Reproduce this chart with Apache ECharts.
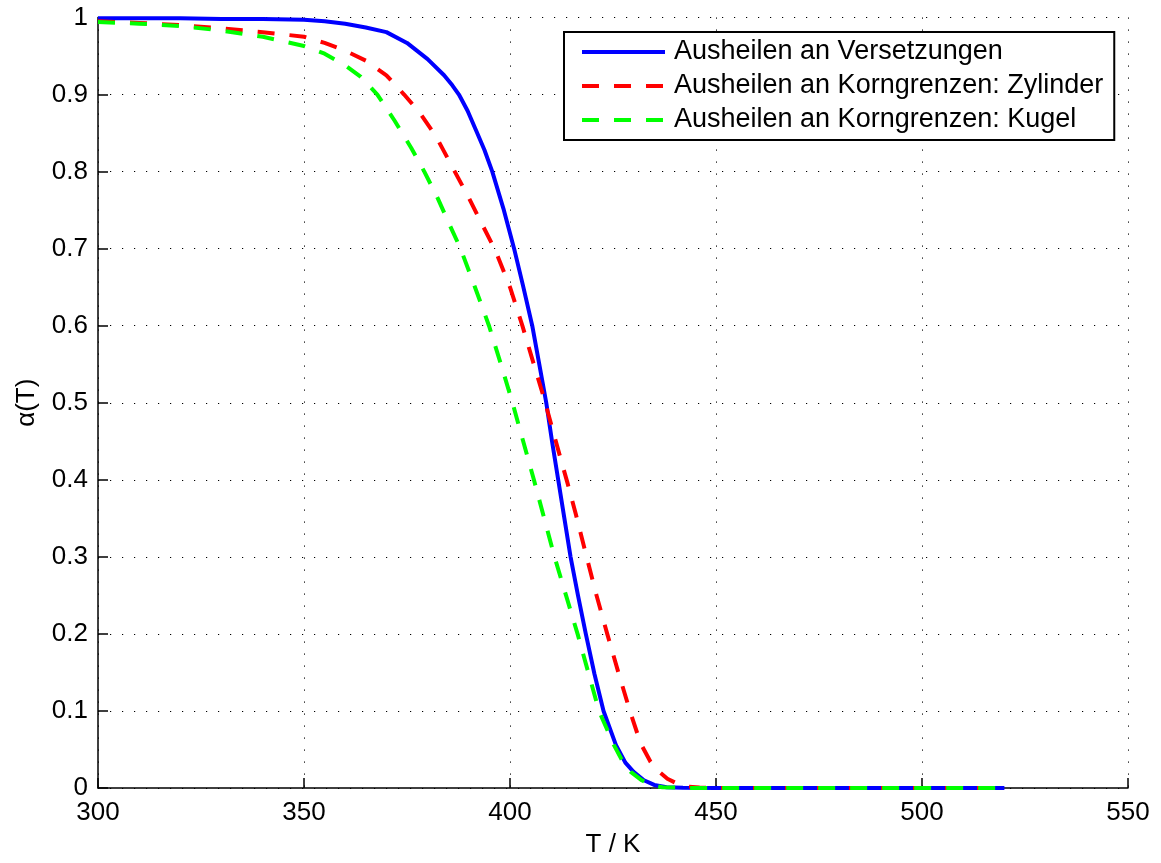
<!DOCTYPE html>
<html>
<head>
<meta charset="utf-8">
<script src="https://cdn.jsdelivr.net/npm/echarts@6/dist/echarts.min.js"></script>
<style>
  html, body { margin: 0; padding: 0; background: #fff; }
  #chart { width: 1161px; height: 863px; }
</style>
</head>
<body>
<div id="chart"></div>
<script>
// Annealing fraction alpha(T) for three recovery mechanisms
const seriesNames = [
  'Ausheilen an Versetzungen',
  'Ausheilen an Korngrenzen: Zylinder',
  'Ausheilen an Korngrenzen: Kugel'
];

// Dislocation annealing
const tempVersetzung = [300, 310, 320, 330, 340, 350, 355, 360, 365, 370, 375, 380, 384, 386, 387.6, 389.7, 391.8, 393.8, 395.7, 398.4, 401, 403.2, 405.4, 407.1, 408.8, 410.2, 411.7, 413.2, 414.7, 416.5, 418.4, 420.5, 422.7, 425.7, 428, 430, 432.5, 435, 438, 442, 450, 460, 480, 500, 520];
const alphaVersetzung = [0.999, 0.999, 0.999, 0.998, 0.998, 0.997, 0.995, 0.992, 0.987, 0.981, 0.967, 0.946, 0.925, 0.912, 0.900, 0.879, 0.853, 0.828, 0.800, 0.752, 0.700, 0.651, 0.600, 0.550, 0.500, 0.450, 0.400, 0.350, 0.300, 0.250, 0.200, 0.148, 0.100, 0.056, 0.033, 0.021, 0.010, 0.004, 0.001, 0.0002, 0, 0, 0, 0, 0];

// Grain boundary annealing, cylindrical grains
const tempZylinder = [300, 310, 320, 330, 340, 350, 355, 360, 365, 370, 374.3, 378, 382, 386.6, 390, 393, 396.5, 400, 403, 405.5, 408.3, 410.5, 412, 414, 416, 418.6, 421, 423.6, 426.3, 429.1, 431.7, 434.1, 436, 438.2, 440.5, 443, 446, 450, 460, 480, 500, 520];
const alphaZylinder = [0.995, 0.993, 0.990, 0.986, 0.981, 0.975, 0.967, 0.957, 0.944, 0.925, 0.900, 0.877, 0.846, 0.800, 0.766, 0.734, 0.697, 0.650, 0.600, 0.555, 0.505, 0.462, 0.433, 0.395, 0.355, 0.300, 0.250, 0.200, 0.150, 0.100, 0.058, 0.034, 0.022, 0.012, 0.006, 0.002, 0.0005, 0, 0, 0, 0, 0];

// Grain boundary annealing, spherical grains
const tempKugel = [300, 310, 320, 330, 340, 350, 355, 360, 363.8, 367.8, 372, 376, 379.2, 382.5, 385, 388, 391.5, 394.9, 397.8, 400.6, 403.2, 405.8, 408.3, 410.8, 413.6, 416.4, 419, 421.6, 425.2, 427.5, 429.3, 432, 434.1, 437, 442, 450, 460, 480, 500, 520];
const alphaKugel = [0.994, 0.992, 0.989, 0.983, 0.975, 0.963, 0.953, 0.938, 0.923, 0.900, 0.866, 0.831, 0.800, 0.765, 0.735, 0.700, 0.650, 0.600, 0.550, 0.500, 0.450, 0.400, 0.350, 0.300, 0.250, 0.200, 0.150, 0.100, 0.056, 0.033, 0.021, 0.010, 0.004, 0.001, 0.0002, 0, 0, 0, 0, 0];

const xTicks = { min: 300, max: 550, step: 50 };
const yTicks = { min: 0, max: 1, step: 0.1 };

const pairs = (xs, ys) => xs.map((x, i) => [x, ys[i]]);

const FONT = '"Liberation Sans", Arial, Helvetica, sans-serif';
const dotted = { color: '#000', width: 1, type: [1.2, 10.8] };

const chart = echarts.init(document.getElementById('chart'), null, { renderer: 'canvas' });

const lineSeries = (name, data, color, dash, z) => ({
  name: name,
  type: 'line',
  data: data,
  showSymbol: false,
  symbol: 'none',
  smooth: false,
  z: z,
  lineStyle: { color: color, width: 4, type: dash, join: 'round' },
  itemStyle: { color: color },
  emphasis: { disabled: true },
  animation: false
});

chart.setOption({
  backgroundColor: '#fff',
  animation: false,
  textStyle: { fontFamily: FONT },
  grid: { left: 98, top: 17.5, width: 1030, height: 775.5, containLabel: false },
  legend: {
    orient: 'vertical',
    left: 564,
    top: 32,
    padding: [5, 11, 5, 16],
    itemWidth: 83,
    itemHeight: 12,
    itemGap: 4,
    borderColor: '#000',
    borderWidth: 2,
    backgroundColor: '#fff',
    selectedMode: false,
    itemStyle: { opacity: 0 },
    lineStyle: { width: 4 },
    textStyle: { fontFamily: FONT, fontSize: 27, color: '#000', lineHeight: 30, padding: [0, 0, 0, 4] },
    data: seriesNames
  },
  xAxis: {
    type: 'value',
    min: xTicks.min,
    max: xTicks.max,
    interval: xTicks.step,
    name: 'T / K',
    nameLocation: 'middle',
    nameGap: 44,
    nameTextStyle: { fontFamily: FONT, fontSize: 26, color: '#000' },
    axisLine: { show: true, onZero: false, lineStyle: { color: '#000', width: 1.5 } },
    axisTick: { show: true, inside: true, length: 10, lineStyle: { color: '#000', width: 1.5 } },
    axisLabel: { fontFamily: FONT, fontSize: 26, color: '#000', margin: 12 },
    splitLine: { show: true, lineStyle: dotted }
  },
  yAxis: {
    type: 'value',
    min: yTicks.min,
    max: yTicks.max,
    interval: yTicks.step,
    name: 'α(T)',
    nameLocation: 'middle',
    nameRotate: 90,
    nameGap: 58,
    nameTextStyle: { fontFamily: FONT, fontSize: 26, color: '#000' },
    axisLine: { show: true, onZero: false, lineStyle: { color: '#000', width: 1.5 } },
    axisTick: { show: true, inside: true, length: 10, lineStyle: { color: '#000', width: 1.5 } },
    axisLabel: {
      fontFamily: FONT, fontSize: 26, color: '#000', margin: 10,
      formatter: v => String(Math.round(v * 10) / 10)
    },
    splitLine: { show: true, lineStyle: dotted }
  },
  series: [
    lineSeries(seriesNames[0], pairs(tempVersetzung, alphaVersetzung), '#0000ff', 'solid', 2),
    lineSeries(seriesNames[1], pairs(tempZylinder, alphaZylinder), '#ff0000', [17, 15], 3),
    lineSeries(seriesNames[2], pairs(tempKugel, alphaKugel), '#00ff00', [17, 15], 4)
  ]
});
</script>
</body>
</html>
